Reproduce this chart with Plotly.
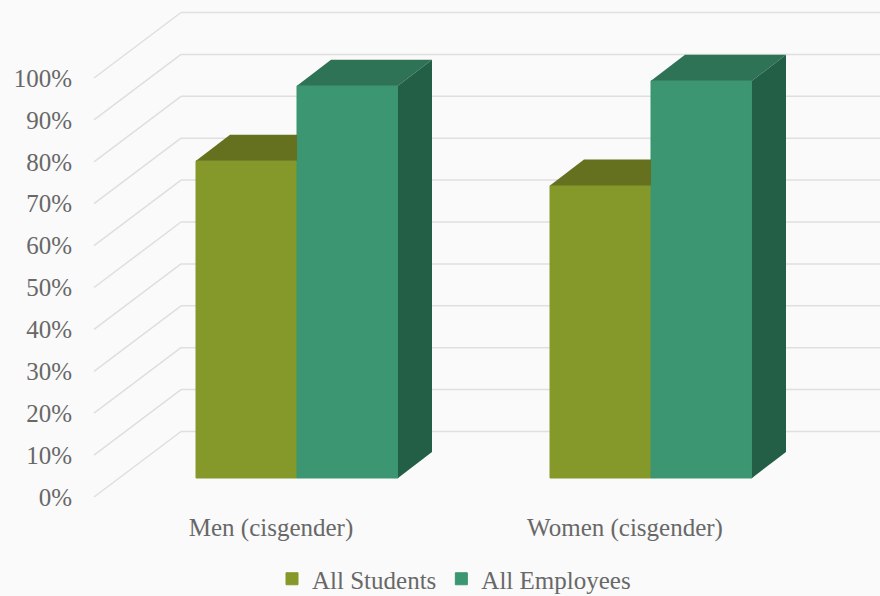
import plotly.graph_objects as go

categories = ["Men (cisgender)", "Women (cisgender)"]
series_names = ["All Students", "All Employees"]
students = [75.7, 69.8]
employees = [93.6, 94.8]
tick_values = [0, 10, 20, 30, 40, 50, 60, 70, 80, 90, 100]
tick_labels = [f"{v}%" for v in tick_values]

FRONT = ["#85982A", "#3B9671"]
TOP = ["#667120", "#2E7355"]
SIDE = "#235F47"
TEXT = "#686868"
GRID = "#DFDFDF"
BG = "#FAFAFA"
FONT = "Liberation Serif"

# scales: one category = 354 px, one percentage point = 4.19 px
SX, SY = 354.0, 4.19
cat_pos = [0, 1]
GROUP_W = 202 / SX
BAR_W = GROUP_W / 2
BAR_BASE = 19 / SY
BAR_DX, BAR_DY = 34 / SX, 26 / SY
WALL_X = -203 / SX
WALL_DX, WALL_DY = 87 / SX, 65.5 / SY
X_RANGE = [-221 / SX, 583 / SX]
Y_RANGE = [-15 / SY, 497 / SY]

fig = go.Figure()

for name, vals, col in zip(series_names, [students, employees], FRONT):
    fig.add_bar(
        x=cat_pos, y=vals, base=BAR_BASE, name=name,
        marker=dict(color=col, line=dict(color=col, width=1)),
    )

for c, v in zip(cat_pos, students):
    x0, xm = c - BAR_W, c
    t = BAR_BASE + v
    fig.add_scatter(
        x=[x0, x0 + BAR_DX, xm, xm, x0], y=[t, t + BAR_DY, t + BAR_DY, t, t],
        fill="toself", fillcolor=TOP[0], mode="none", showlegend=False, hoverinfo="skip",
    )

for c, v in zip(cat_pos, employees):
    x0, x1 = c, c + BAR_W
    t = BAR_BASE + v
    b = BAR_BASE
    fig.add_scatter(
        x=[x0, x0 + BAR_DX, x1 + BAR_DX, x1, x0], y=[t, t + BAR_DY, t + BAR_DY, t, t],
        fill="toself", fillcolor=TOP[1], mode="none", showlegend=False, hoverinfo="skip",
    )
    fig.add_scatter(
        x=[x1, x1 + BAR_DX, x1 + BAR_DX, x1, x1], y=[t, t + BAR_DY, b + BAR_DY, b, t],
        fill="toself", fillcolor=SIDE, mode="none", showlegend=False, hoverinfo="skip",
    )

for v in tick_values:
    fig.add_shape(type="line", layer="below", xref="x", yref="y",
                  x0=WALL_X, y0=v, x1=WALL_X + WALL_DX, y1=v + WALL_DY,
                  line=dict(color=GRID, width=1.5))
    fig.add_shape(type="line", layer="below", xref="x", yref="y",
                  x0=WALL_X + WALL_DX, y0=v + WALL_DY, x1=X_RANGE[1], y1=v + WALL_DY,
                  line=dict(color=GRID, width=1.5))

fig.update_layout(
    width=880, height=596,
    margin=dict(l=76, r=0, t=0, b=84),
    paper_bgcolor=BG, plot_bgcolor=BG,
    barmode="group", bargap=1 - GROUP_W, bargroupgap=0,
    font=dict(family=FONT, size=25, color=TEXT),
    legend=dict(orientation="h", x=272 / 880, xref="container", xanchor="left",
                y=17 / 596, yref="container", yanchor="middle",
                bgcolor="rgba(0,0,0,0)", font=dict(family=FONT, size=25, color=TEXT)),
    xaxis=dict(range=X_RANGE, tickvals=[c - 26 / SX for c in cat_pos], ticktext=categories,
               showgrid=False, zeroline=False, showline=False, ticks="", ticklabelstandoff=-2),
    yaxis=dict(range=Y_RANGE, tickvals=tick_values, ticktext=tick_labels,
               showgrid=False, zeroline=False, showline=False, ticks="", ticklabelstandoff=3),
)

fig.write_html("out.html", config={"displayModeBar": False},
               post_script="document.body.style.margin='0';")
